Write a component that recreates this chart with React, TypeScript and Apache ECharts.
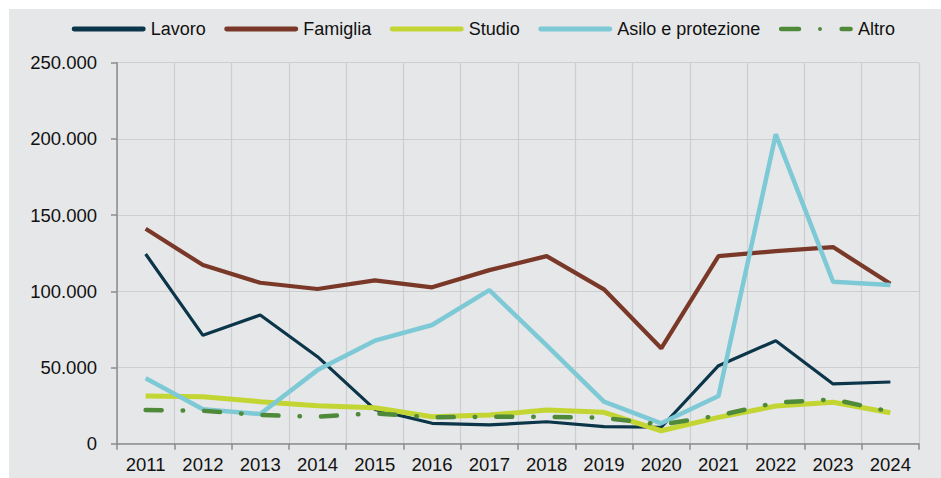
import React, { useEffect, useRef } from "react";
import * as echarts from "echarts";

const years = ["2011","2012","2013","2014","2015","2016","2017","2018","2019","2020","2021","2022","2023","2024"];
const lavoro = [124500, 71100, 84400, 57100, 22500, 13400, 12300, 14400, 11200, 10800, 51200, 67600, 39200, 40500];
const famiglia = [141000, 117200, 105600, 101500, 107200, 102600, 113900, 123100, 101300, 62600, 123100, 126400, 129000, 105000];
const studio = [31300, 30800, 27600, 24900, 23600, 17700, 18800, 22100, 20600, 8500, 17300, 24700, 27200, 20300];
const asilo = [42900, 22600, 19500, 48300, 67600, 77900, 100800, 64500, 27600, 13400, 31300, 203000, 106300, 104100];
const altro = [22100, 21600, 18800, 17700, 19900, 17300, 17700, 17700, 17000, 12500, 18500, 26900, 29100, 21000];

const fmt = (v: number) => String(v).replace(/\B(?=(\d{3})+(?!\d))/g, ".");

const barIcon = "path://M2.4,0h69.2a2.4,2.4 0 0 1 0,4.8h-69.2a2.4,2.4 0 0 1 0,-4.8z";
const dashDotIcon =
  "path://M2.4,0h17.9a2.4,2.4 0 0 1 0,4.8h-17.9a2.4,2.4 0 0 1 0,-4.8z M41.7,0.4a2,2 0 1 1 0,4a2,2 0 1 1 0,-4z M63.7,0h8.9a2.4,2.4 0 0 1 0,4.8h-8.9a2.4,2.4 0 0 1 0,-4.8z";

export default function App() {
  const ref = useRef<HTMLDivElement>(null);
  useEffect(() => {
    const chart = echarts.init(ref.current!, undefined, { renderer: "svg" });
    const font = "'Liberation Sans', Arial, sans-serif";
    chart.setOption({
      animation: false,
      backgroundColor: "#e6e7e8",
      textStyle: { fontFamily: font },
      legend: {
        top: 6,
        left: 57.7,
        itemWidth: 74,
        itemHeight: 4.8,
        itemGap: 18.5,
        symbolKeepAspect: true,
        textStyle: { fontSize: 18, color: "#111", fontFamily: font },
        data: [
          { name: "Lavoro", icon: barIcon },
          { name: "Famiglia", icon: barIcon },
          { name: "Studio", icon: barIcon },
          { name: "Asilo e protezione", icon: barIcon },
          { name: "Altro", icon: dashDotIcon },
        ],
      },
      grid: { left: 108, right: 22, top: 53.7, bottom: 34.3, containLabel: false },
      xAxis: {
        type: "category",
        data: years,
        boundaryGap: true,
        axisLine: { lineStyle: { color: "#8c8c8c", width: 1.5 } },
        axisTick: { show: true, length: 6, lineStyle: { color: "#8c8c8c", width: 1.5 } },
        axisLabel: { fontSize: 18.5, color: "#111", margin: 11, fontFamily: font },
        splitLine: { show: true, lineStyle: { color: "#cdced0", width: 1.2 } },
      },
      yAxis: {
        type: "value",
        min: 0,
        max: 250000,
        interval: 50000,
        axisLine: { show: true, lineStyle: { color: "#8c8c8c", width: 1.5 } },
        axisTick: { show: true, length: 6, lineStyle: { color: "#8c8c8c", width: 1.5 } },
        axisLabel: { fontSize: 18.5, color: "#111", margin: 20, formatter: (v: number) => fmt(v), fontFamily: font },
        splitLine: { show: true, lineStyle: { color: "#cdced0", width: 1.2 } },
      },
      series: [
        { name: "Lavoro", type: "line", data: lavoro, symbol: "none", color: "#0b3549", lineStyle: { width: 3.2, color: "#0b3549" } },
        { name: "Famiglia", type: "line", data: famiglia, symbol: "none", color: "#7a3828", lineStyle: { width: 4.2, color: "#7a3828" } },
        { name: "Studio", type: "line", data: studio, symbol: "none", color: "#c3d532", lineStyle: { width: 5, color: "#c3d532" } },
        { name: "Asilo e protezione", type: "line", data: asilo, symbol: "none", color: "#7dc9d6", lineStyle: { width: 4.5, color: "#7dc9d6" } },
        { name: "Altro", type: "line", data: altro, symbol: "none", color: "#4f8a3a", lineStyle: { width: 4.5, color: "#4f8a3a", type: [16, 21, 0.5, 21], cap: "round" } },
      ],
    });
    return () => chart.dispose();
  }, []);
  return (
    <div style={{ position: "absolute", left: 0, top: 0, width: 941, height: 478, background: "#fff" }}>
      <div ref={ref} style={{ position: "absolute", left: 9, top: 9, width: 932, height: 469 }} />
    </div>
  );
}
